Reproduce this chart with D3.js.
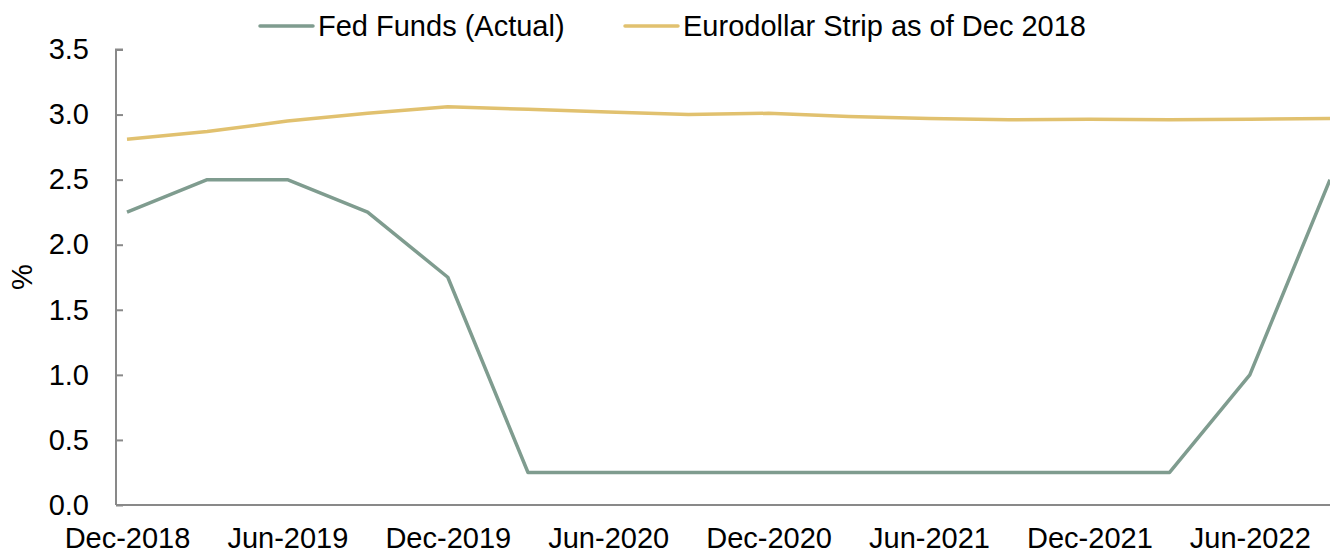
<!DOCTYPE html>
<html lang="en">
<head>
  <meta charset="UTF-8">
  <title>Fed Funds vs Eurodollar Strip</title>
  <style>
    body { margin: 0; background: #fff; }
    svg { display: block; font-family: Arial, "Liberation Sans", sans-serif; }
    .axis text { font-size: 29px; fill: #000; }
    .axis path, .axis line { stroke: #898989; stroke-width: 2px; }
  </style>
</head>
<body>
  <svg width="1330" height="552"></svg>
  <script src="https://cdn.jsdelivr.net/npm/d3@7/dist/d3.min.js"></script>
  <script>
    // quarterly observations
    var quarters = ['Dec-2018', 'Mar-2019', 'Jun-2019', 'Sep-2019', 'Dec-2019', 'Mar-2020', 'Jun-2020', 'Sep-2020',
      'Dec-2020', 'Mar-2021', 'Jun-2021', 'Sep-2021', 'Dec-2021', 'Mar-2022', 'Jun-2022', 'Sep-2022']
    var fedFunds = [2.25, 2.5, 2.5, 2.25, 1.75, 0.25, 0.25, 0.25, 0.25, 0.25, 0.25, 0.25, 0.25, 0.25, 1.0, 2.5]
    var eurodollar = [2.81, 2.87, 2.95, 3.01, 3.06, 3.04, 3.02, 3.0, 3.01, 2.985, 2.97, 2.96, 2.965, 2.96, 2.965, 2.97]
    var xTickLabels = ['Dec-2018', 'Jun-2019', 'Dec-2019', 'Jun-2020', 'Dec-2020', 'Jun-2021', 'Dec-2021', 'Jun-2022']
    var yTicks = [0, 0.5, 1.0, 1.5, 2.0, 2.5, 3.0, 3.5]
    var seriesNames = ['Fed Funds (Actual)', 'Eurodollar Strip as of Dec 2018']
    var colors = ['#7f9c8f', '#e1c16f']

    var svg = d3.select('svg')

    var x = d3.scalePoint().domain(quarters).range([127, 1330])
    var y = d3.scaleLinear().domain([0, 3.5]).range([505, 49.5])

    // y axis
    var yAxis = svg.append('g')
      .attr('class', 'axis')
      .attr('transform', 'translate(116,0)')
      .call(d3.axisRight(y).tickValues(yTicks).tickSize(7).tickFormat(d3.format('.1f')))
    yAxis.select('.domain').attr('d', 'M7,' + y(3.5) + 'H0V' + y(0))
    yAxis.selectAll('text')
      .attr('x', -27)
      .attr('text-anchor', 'end')

    // x axis baseline + labels
    var xAxis = svg.append('g')
      .attr('class', 'axis')
      .attr('transform', 'translate(0,' + y(0) + ')')
      .call(d3.axisBottom(x).tickValues(xTickLabels).tickSize(0).tickPadding(22))
    xAxis.select('.domain').attr('d', 'M116,0H1330')

    svg.append('text')
      .attr('transform', 'translate(32,277) rotate(-90)')
      .attr('text-anchor', 'middle')
      .attr('font-size', '29px')
      .text('%')

    var line = d3.line()
      .x(function(d, i) { return x(quarters[i]) })
      .y(function(d) { return y(d) })

    ;[eurodollar, fedFunds].forEach(function(s, k) {
      svg.append('path')
        .datum(s)
        .attr('fill', 'none')
        .attr('stroke', k === 0 ? colors[1] : colors[0])
        .attr('stroke-width', 3.5)
        .attr('stroke-linejoin', 'round')
        .attr('d', line)
    })

    // legend
    var legendX = [260, 625]
    seriesNames.forEach(function(name, i) {
      var lg = svg.append('g').attr('transform', 'translate(' + legendX[i] + ',26)')
      lg.append('line')
        .attr('x1', 0).attr('x2', 53)
        .attr('stroke', colors[i])
        .attr('stroke-width', 3.5)
        .attr('stroke-linecap', 'round')
      lg.append('text')
        .attr('x', 58)
        .attr('dy', '0.36em')
        .attr('font-size', '29px')
        .text(name)
    })
  </script>
</body>
</html>
